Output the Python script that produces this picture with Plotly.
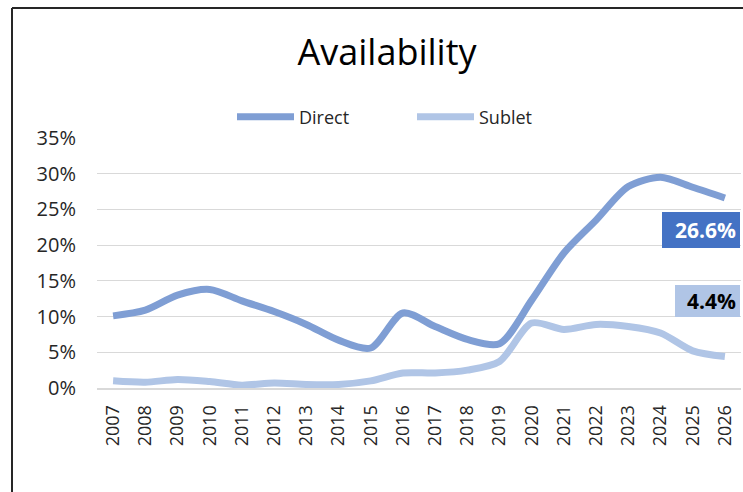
import plotly.graph_objects as go

years = [str(y) for y in range(2007, 2027)]
direct = [0.101, 0.109, 0.130, 0.138, 0.122, 0.107, 0.089, 0.067, 0.056, 0.105,
          0.086, 0.068, 0.062, 0.123, 0.189, 0.235, 0.282, 0.295, 0.281, 0.266]
sublet = [0.010, 0.008, 0.012, 0.009, 0.004, 0.007, 0.005, 0.005, 0.010, 0.021,
          0.021, 0.025, 0.037, 0.091, 0.082, 0.089, 0.086, 0.077, 0.052, 0.044]
y_ticks = [0, 0.05, 0.10, 0.15, 0.20, 0.25, 0.30, 0.35]

c_direct = "#7F9ED4"
c_sublet = "#B0C5E6"
FONT = "Open Sans"

W, H = 743, 492
L, R, T, B = 97, 2, 138, 104
pw, ph = W - L - R, H - T - B

def px(x):
    return (x - L) / pw

def py(y):
    return (H - B - y) / ph

fig = go.Figure()
fig.add_trace(go.Scatter(x=years, y=direct, name="Direct", mode="lines", legend="legend",
                         line=dict(color=c_direct, width=7, shape="spline", smoothing=0.8)))
fig.add_trace(go.Scatter(x=years, y=sublet, name="Sublet", mode="lines", legend="legend2",
                         line=dict(color=c_sublet, width=7, shape="spline", smoothing=0.8)))

fig.add_annotation(x=px(740), xref="paper", xanchor="right", y=py(230), yref="paper",
                   yanchor="middle", text="<b>26.6%</b>", showarrow=False,
                   font=dict(family=FONT, size=21, color="white"),
                   bgcolor="#4472C4", borderwidth=0,
                   borderpad=4, width=70, height=28, align="right")
fig.add_annotation(x=px(740), xref="paper", xanchor="right", y=py(301), yref="paper",
                   yanchor="middle", text="<b>4.4%</b>", showarrow=False,
                   font=dict(family=FONT, size=21, color="black"),
                   bgcolor="#B0C5E6", borderwidth=0,
                   borderpad=4, width=57, height=24, align="right")

border = dict(color="#262626", width=2)
fig.add_shape(type="line", xref="paper", yref="paper", x0=px(12), x1=px(12),
              y0=py(8), y1=py(600), line=border)
fig.add_shape(type="line", xref="paper", yref="paper", x0=px(12), x1=px(800),
              y0=py(8), y1=py(8), line=border)

leg_common = dict(orientation="h", xanchor="left", xref="container",
                  yanchor="middle", yref="container", y=1 - 117 / H,
                  font=dict(family=FONT, size=18, color="#262626"),
                  itemwidth=57, bgcolor="rgba(0,0,0,0)")

fig.update_layout(
    width=W, height=H,
    margin=dict(l=L, r=R, t=T, b=B, autoexpand=False),
    paper_bgcolor="white", plot_bgcolor="white",
    font=dict(family=FONT, color="#262626"),
    title=dict(text="Availability", x=387 / W, xanchor="center",
               y=1 - 52 / H, yanchor="middle", yref="container",
               font=dict(family=FONT, size=36, color="black")),
    legend=dict(x=232 / W, **leg_common),
    legend2=dict(x=412 / W, **leg_common),
    showlegend=True,
)
fig.update_xaxes(type="category", range=[-0.5, 19.5], tickangle=-90, showgrid=False,
                 showline=True, linecolor="#d9d9d9", linewidth=2,
                 tickfont=dict(family=FONT, size=18, color="#262626"),
                 ticks="", ticklabelstandoff=8, automargin=False)
fig.update_yaxes(range=[0, 0.35], tickvals=y_ticks, tickformat=".0%",
                 showgrid=True, gridcolor="#d9d9d9", gridwidth=1,
                 zeroline=False, showline=False,
                 tickfont=dict(family=FONT, size=20, color="#262626"),
                 ticks="", ticklabelstandoff=20, automargin=False)

fig.write_html("out.html")
